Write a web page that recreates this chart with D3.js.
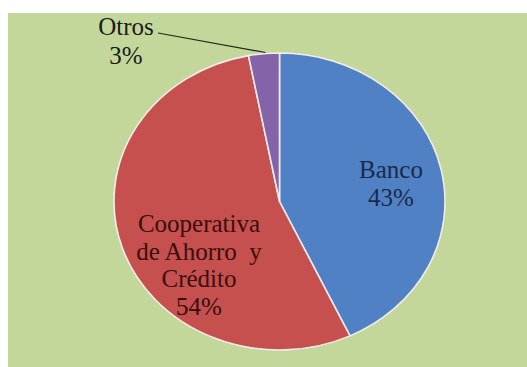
<!DOCTYPE html>
<html>
<head>
<meta charset="utf-8">
<script src="https://cdn.jsdelivr.net/npm/d3@7"></script>
<style>
  html, body { margin: 0; padding: 0; background: #ffffff; }
  svg { display: block; }
</style>
</head>
<body>
<svg id="chart" width="527" height="367"></svg>
<script>
// Distribución por tipo de entidad financiera
const categories = ["Banco", "Cooperativa de Ahorro y Crédito", "Otros"];
const values = [43, 54, 3];
const labelLines = [
  ["Banco", "43%"],
  ["Cooperativa", "de Ahorro  y", "Crédito", "54%"],
  ["Otros", "3%"]
];
const sliceColors = ["#4f81c4", "#c6504d", "#8463a8"];
const textColors = ["#1c2a4a", "#3a0d0d", "#1a1a1a"];

const W = 527, H = 367;
const labelFont = "Liberation Serif";
const svg = d3.select("#chart");

// plot area background
svg.append("rect")
  .attr("x", 8).attr("y", 13)
  .attr("width", W - 8).attr("height", H - 13)
  .attr("fill", "#c4d79b");

// the pie is drawn as a horizontally stretched circle
const cx = 279.5, cy = 201.5, rx = 165.5, ry = 148.5;
const sx = rx / ry;

const pie = d3.pie().sort(null).value(d => d)(values);
const arc = d3.arc().innerRadius(0).outerRadius(ry);

const g = svg.append("g")
  .attr("transform", `translate(${cx},${cy}) scale(${sx},1)`);

g.selectAll("path")
  .data(pie)
  .join("path")
  .attr("d", arc)
  .attr("fill", (d, i) => sliceColors[i])
  .attr("stroke", "#f4ecec")
  .attr("stroke-width", 1.6)
  .attr("vector-effect", "non-scaling-stroke");

// point on the stretched outline for a given angle and radius fraction
function pt(angle, frac) {
  return [cx + rx * frac * Math.sin(angle), cy - ry * frac * Math.cos(angle)];
}

const fontSize = 25, lineH = 27.5;

// labels inside the two large slices
const inside = [
  { i: 0, x: 391, y: 178 },
  { i: 1, x: 199, y: 232 }
];
inside.forEach(o => {
  const t = svg.append("text")
    .attr("text-anchor", "middle")
    .attr("font-size", fontSize)
    .attr("font-family", labelFont)
    .attr("fill", textColors[o.i])
    .style("white-space", "pre");
  labelLines[o.i].forEach((s, k) => {
    t.append("tspan").attr("x", o.x).attr("y", o.y + k * lineH).text(s);
  });
});

// small slice: label outside with a leader line
const otros = pie[2];
const edge = pt(otros.startAngle + (otros.endAngle - otros.startAngle) * 0.55, 1.0);
svg.append("line")
  .attr("x1", 158).attr("y1", 33)
  .attr("x2", edge[0]).attr("y2", edge[1] - 1)
  .attr("stroke", "#1a2a1a")
  .attr("stroke-width", 1.2);

const to = svg.append("text")
  .attr("text-anchor", "middle")
  .attr("font-size", fontSize)
  .attr("font-family", labelFont)
  .attr("fill", textColors[2]);
labelLines[2].forEach((s, k) => {
  to.append("tspan").attr("x", 126).attr("y", 35 + k * 29).text(s);
});
</script>
</body>
</html>
